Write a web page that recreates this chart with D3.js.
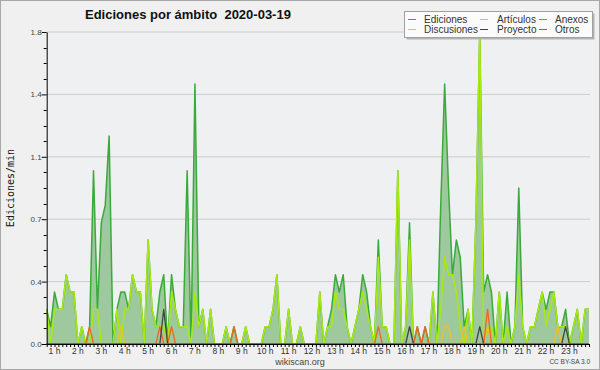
<!DOCTYPE html>
<html><head><meta charset="utf-8">
<script src="https://cdn.jsdelivr.net/npm/d3@7"></script>
<style>body{margin:0;background:#f0f0f0}svg text{font-family:"Liberation Sans",Arial,sans-serif}</style>
</head><body><svg id="c" width="600" height="370"></svg>
<script>
const title = "Ediciones por ámbito  2020-03-19";
const yAxisTitle = "Ediciones/min";
const startTime = "2020-03-19T00:40:00";
const endTime = "2020-03-19T23:50:00";
const stepMinutes = 10;

const ediciones = [
0.2,0.1,0.3,0.2,0.2,0.4,0.3,0.3,0,0.1,
0,0.1,1.0,0.2,0.7,0.8,1.2,0,0.2,0.3,
0.3,0.2,0.4,0.3,0.3,0,0.6,0.2,0.1,0.3,
0.4,0,0.4,0.2,0.1,0.1,1.0,0,1.5,0.1,
0.2,0,0.2,0,0,0,0.1,0,0.1,0,
0,0.1,0,0,0,0,0.1,0.1,0.2,0.4,
0,0,0.2,0,0,0.1,0,0,0,0,
0.3,0,0.1,0.2,0.4,0.3,0.4,0.1,0,0.1,
0.2,0.4,0.3,0.1,0,0.6,0.1,0.1,0,0,
1.0,0,0.1,0.7,0,0.1,0,0.1,0,0.3,
0,0.8,1.5,0.9,0.4,0.6,0.5,0.1,0.2,0,
0.7,1.8,0.3,0.4,0.3,0,0.3,0,0.3,0,
0.1,0.9,0.1,0,0.1,0.1,0.2,0.3,0.2,0.3,
0.3,0.1,0.1,0.2,0,0.1,0.2,0,0.2,0.2];

const articulos = [
0.2,0,0.2,0.2,0.2,0.4,0.3,0.3,0,0.1,
0,0,0.2,0.2,0,0,0,0,0.2,0,
0.2,0.2,0.4,0.3,0.3,0,0.6,0.2,0.1,0.1,
0.1,0,0.3,0.2,0.1,0.1,0.1,0,0.3,0.1,
0.2,0,0.2,0,0,0,0.1,0,0,0,
0,0.1,0,0,0,0,0.1,0.1,0.2,0.4,
0,0,0.2,0,0,0.1,0,0,0,0,
0.3,0,0.1,0.1,0.3,0.2,0.2,0.1,0,0.1,
0.2,0.3,0.2,0.1,0,0.5,0.1,0.1,0,0,
1.0,0,0.1,0.6,0,0,0,0,0,0.3,
0,0.2,0.5,0.4,0.4,0.3,0.1,0,0.2,0,
0.7,1.8,0,0.1,0.1,0,0.3,0,0.1,0,
0.1,0.4,0.1,0,0.1,0.1,0.2,0.3,0.1,0.2,
0.3,0.1,0.1,0.1,0,0.1,0.2,0,0.2,0.2];

const anexos = [
0,0,0,0,0,0,0,0,0,0,
0,0.1,0,0,0,0,0,0,0,0,
0,0,0,0,0,0,0,0,0,0.1,
0,0,0.1,0,0,0,0,0,0,0,
0,0,0,0,0,0,0,0,0.1,0,
0,0,0,0,0,0,0,0,0,0,
0,0,0,0,0,0,0,0,0,0,
0,0,0,0,0,0,0,0,0,0,
0,0,0,0,0,0.1,0,0,0,0,
0,0,0,0,0,0.1,0,0.1,0,0,
0,0,0,0,0,0,0,0,0,0,
0,0,0,0.2,0,0,0,0,0,0,
0,0,0,0,0,0,0,0,0,0,
0,0,0,0,0,0,0,0,0,0];

const discusiones = [
0,0,0,0,0,0,0,0,0,0,
0,0,0,0,0,0,0,0,0,0.1,
0,0,0,0,0,0,0,0,0,0,
0,0,0,0,0,0,0,0,0,0,
0,0,0,0,0,0,0,0,0,0,
0,0,0,0,0,0,0,0,0,0,
0,0,0,0,0,0,0,0,0,0,
0,0,0,0,0,0,0,0,0,0,
0,0,0,0,0,0,0,0,0,0,
0,0,0,0,0,0,0,0,0,0,
0,0,0.1,0.1,0,0,0,0.1,0,0,
0,0,0,0.1,0,0,0,0,0,0,
0,0,0,0,0,0,0,0,0,0,
0,0.1,0,0,0,0,0,0,0,0];

const proyecto = [
0,0,0,0,0,0,0,0,0,0,
0,0,0,0,0,0,0,0,0,0,
0,0,0,0,0,0,0,0,0,0,
0.2,0,0,0,0,0,0,0,0,0,
0,0,0,0,0,0,0,0,0,0,
0,0,0,0,0,0,0,0,0,0,
0,0,0,0,0,0,0,0,0,0,
0,0,0,0,0,0,0,0,0,0,
0,0,0,0,0,0,0,0,0,0,
0,0,0,0.1,0,0,0,0,0,0,
0,0,0,0,0,0,0,0,0,0,
0,0.1,0,0,0,0,0,0,0,0,
0,0,0,0,0,0,0,0,0,0,
0,0,0,0.1,0,0,0,0,0,0];

const otros = new Array(ediciones.length).fill(0);

const yTickValues = [0, 0.36, 0.72, 1.08, 1.44, 1.8];
const yTickLabels = ["0.0","0.4","0.7","1.1","1.4","1.8"];
const yMax = 1.8;

const seriesList = [
  {name:"Ediciones", values:ediciones, color:"#3aaa3a"},
  {name:"Artículos", values:articulos, color:"#a8ea10"},
  {name:"Anexos", values:anexos, color:"#ee6622"},
  {name:"Discusiones", values:discusiones, color:"#f0c020"},
  {name:"Proyecto", values:proyecto, color:"#444444"},
  {name:"Otros", values:otros, color:"#9944ee"}
];

const svg = d3.select("#c");
const L = 46.7, R = 589, T = 32, B = 344;
const parse = d3.timeParse("%Y-%m-%dT%H:%M:%S");
const t0 = parse(startTime), t1 = parse(endTime);
const times = ediciones.map((_, i) => d3.timeMinute.offset(t0, i * stepMinutes));
const x = d3.scaleTime().domain([t0, t1]).range([L, R]);
const y = d3.scaleLinear().domain([0, yMax]).range([B, T]);

svg.append("rect").attr("x",0).attr("y",0).attr("width",600).attr("height",370).attr("fill","#f0f0f0");
svg.append("rect").attr("x",0.5).attr("y",0.5).attr("width",599).attr("height",369).attr("fill","none").attr("stroke","#a8a8a8");
svg.append("rect").attr("x",L).attr("y",T).attr("width",R+1-L).attr("height",B-T).attr("fill","#eff0f2");

// grid
svg.append("g").selectAll("line").data(yTickValues.slice(1)).join("line")
  .attr("x1",L).attr("x2",R+1).attr("y1",d=>y(d)).attr("y2",d=>y(d))
  .attr("stroke","#cccccc").attr("stroke-width",1);

// area and lines
const area = d3.area().x((d,i)=>x(times[i])).y0(B).y1(d=>y(d));
svg.append("path").datum(ediciones).attr("d",area).attr("fill","#9ec89e");

const line = d3.line().x((d,i)=>x(times[i])).y(d=>y(d));
const drawOrder = ["Ediciones","Artículos","Discusiones","Anexos","Proyecto","Otros"];
drawOrder.forEach(n=>{
  const s = seriesList.find(s=>s.name===n);
  svg.append("path").datum(s.values).attr("d",line).attr("fill","none")
    .attr("stroke",s.color).attr("stroke-width", n==="Ediciones"||n==="Artículos"?1.5:1.3)
    .attr("stroke-linejoin","round");
});

// y axis
const yAxis = d3.axisLeft(y).tickValues(yTickValues).tickFormat((d,i)=>yTickLabels[i]).tickSize(5).tickSizeOuter(0);
const gy = svg.append("g").attr("transform",`translate(${L},0)`).call(yAxis);
gy.select(".domain").attr("stroke","#000");
gy.selectAll(".tick line").attr("stroke","#000");
gy.selectAll("text").attr("font-size","8px").attr("fill","#444").attr("x",-5).attr("dy","0.3em")
  .style("font-family","'Liberation Sans',Arial,sans-serif");
const minorY = d3.range(0, 20).map(k=>k*0.09).filter((d,k)=>k%4!==0);
svg.append("g").selectAll("line").data(minorY).join("line")
  .attr("x1",L-3).attr("x2",L).attr("y1",d=>Math.round(y(d))+0.5).attr("y2",d=>Math.round(y(d))+0.5).attr("stroke","#000");

// x axis
const gx = svg.append("g").attr("transform",`translate(0,${B})`)
  .call(d3.axisBottom(x).tickValues(times).tickFormat("").tickSize(3).tickSizeOuter(0));
gx.select(".domain").attr("stroke","#000");
gx.selectAll(".tick line").attr("stroke","#000");
const hours = d3.timeHour.range(d3.timeHour.ceil(t0), t1);
svg.append("g").selectAll("text").data(hours).join("text")
  .attr("x",d=>x(d)).attr("y",353.5).attr("text-anchor","middle")
  .attr("font-size","8.5px").attr("fill","#333").text(d3.timeFormat("%-H h"));

// titles
svg.append("text").attr("x",85).attr("y",18.5).attr("font-size","13px").attr("font-weight","bold")
  .attr("fill","#111").style("white-space","pre").text(title);
svg.append("text").attr("transform","translate(14,188) rotate(-90)").attr("text-anchor","middle")
  .style("font-family","'DejaVu Sans Mono',monospace").attr("font-size","10px").attr("fill","#111").text(yAxisTitle);
svg.append("text").attr("x",300).attr("y",365).attr("text-anchor","middle").attr("font-size","9px").attr("fill","#444").text("wikiscan.org");
svg.append("text").attr("x",590).attr("y",364).attr("text-anchor","end").attr("font-size","6.5px").attr("fill","#444").text("CC BY-SA 3.0");

// legend
const lg = svg.append("g");
lg.append("rect").attr("x",406.5).attr("y",13.5).attr("width",188).attr("height",26).attr("fill","#b4b4b4");
lg.append("rect").attr("x",404.5).attr("y",11.5).attr("width",188).attr("height",26).attr("fill","#fbfbfb").attr("stroke","#a0a0a0");
const legendOrder = ["Ediciones","Artículos","Anexos","Discusiones","Proyecto","Otros"];
const colX = [408, 480, 539], textX = [424, 497, 555], rowY = [19.5, 29.5];
legendOrder.forEach((n,k)=>{
  const s = seriesList.find(s=>s.name===n);
  const c = k%3, r = Math.floor(k/3);
  lg.append("line").attr("x1",colX[c]).attr("x2",colX[c]+8).attr("y1",rowY[r]).attr("y2",rowY[r]).attr("stroke",s.color).attr("stroke-width",1);
  lg.append("text").attr("x",textX[c]).attr("y",rowY[r]+3.5).attr("font-size","10px").attr("fill","#333").text(n);
});
</script></body></html>
